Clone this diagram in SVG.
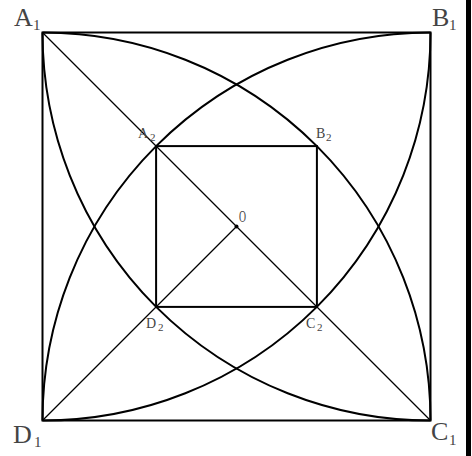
<svg xmlns="http://www.w3.org/2000/svg" width="472" height="456" viewBox="0 0 472 456">
<style>
.thick{fill:none;stroke:#000;stroke-width:2}
.thin{fill:none;stroke:#000;stroke-width:1.2}
.lbl{font-family:"Liberation Serif","DejaVu Serif",serif;fill:#444}
.big{font-size:26px}
.bsub{font-size:15px}
.sm{font-size:14px}
.ssub{font-size:11px}
</style>
<rect x="0" y="0" width="472" height="456" fill="#fff"/>
<rect x="466" y="0" width="5" height="456" fill="#000"/>
<g id="connectors">
<rect class="thick" x="42.5" y="32.5" width="388" height="388"/>
<path class="thick" d="M42.5,32.5 A388,388 0 0 1 430.5,420.5"/>
<path class="thick" d="M42.5,420.5 A388,388 0 0 1 430.5,32.5"/>
<path class="thick" d="M430.5,32.5 A388,388 0 0 1 42.5,420.5"/>
<path class="thick" d="M430.5,420.5 A388,388 0 0 1 42.5,32.5"/>
<line class="thin" x1="42.5" y1="32.5" x2="430.5" y2="420.5"/>
<line class="thin" x1="42.5" y1="420.5" x2="236.5" y2="226.5"/>
<rect class="thick" x="156.1" y="146.1" width="160.8" height="160.8"/>
</g>
<g id="A1"><text class="lbl big" x="14" y="26">A</text><text class="lbl bsub" x="33" y="30">1</text></g>
<g id="B1"><text class="lbl big" x="432" y="26">B</text><text class="lbl bsub" x="449" y="30">1</text></g>
<g id="C1"><text class="lbl big" x="431" y="440">C</text><text class="lbl bsub" x="449" y="445">1</text></g>
<g id="D1"><text class="lbl big" x="13" y="443">D</text><text class="lbl bsub" x="34" y="447">1</text></g>
<g id="A2"><text class="lbl sm" x="138" y="138">A</text><text class="lbl ssub" x="150" y="141">2</text></g>
<g id="B2"><text class="lbl sm" x="316" y="138">B</text><text class="lbl ssub" x="326" y="141">2</text></g>
<g id="C2"><text class="lbl sm" x="306" y="328">C</text><text class="lbl ssub" x="317" y="331">2</text></g>
<g id="D2"><text class="lbl sm" x="146" y="328">D</text><text class="lbl ssub" x="158" y="331">2</text></g>
<g id="O"><circle cx="236.5" cy="226.5" r="2" fill="#000"/><text class="lbl" x="239" y="222" font-size="16" textLength="7" lengthAdjust="spacingAndGlyphs">O</text></g>
</svg>
